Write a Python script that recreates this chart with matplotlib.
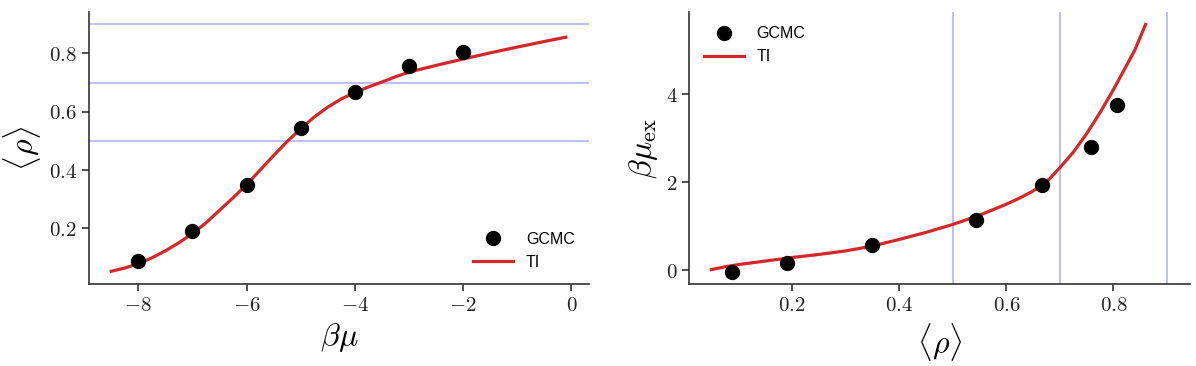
import numpy as np
import matplotlib
matplotlib.use("Agg")
import matplotlib.pyplot as plt
from matplotlib.ticker import FuncFormatter

# GCMC data (left: beta*mu vs <rho>, right: <rho> vs beta*mu_ex)
gcmc_bmu = [-8, -7, -6, -5, -4, -3, -2]
gcmc_rho = [0.087, 0.19, 0.35, 0.543, 0.667, 0.758, 0.806]
gcmc_bmu_ex = [-0.04, 0.17, 0.57, 1.14, 1.93, 2.79, 3.74]

# TI curve, left panel
ti_bmu = [-8.5, -8.25, -8.0, -7.75, -7.5, -7.25, -7.0, -6.75, -6.5, -6.25,
          -6.0, -5.75, -5.5, -5.25, -5.0, -4.75, -4.5, -4.25, -4.0, -3.75,
          -3.5, -3.25, -3.0, -2.5, -2.0, -1.5, -1.0, -0.5, -0.1]
ti_rho = [0.053, 0.064, 0.079, 0.099, 0.123, 0.151, 0.182, 0.219, 0.262, 0.305,
          0.35, 0.40, 0.45, 0.498, 0.542, 0.582, 0.616, 0.644, 0.666, 0.685,
          0.702, 0.72, 0.736, 0.759, 0.781, 0.802, 0.822, 0.841, 0.856]

# TI curve, right panel
ti_rho2 = [0.049, 0.075, 0.1, 0.15, 0.2, 0.25, 0.3, 0.35, 0.4, 0.45,
           0.5, 0.55, 0.6, 0.625, 0.65, 0.675, 0.7, 0.725, 0.75, 0.775,
           0.8, 0.82, 0.84, 0.86]
ti_bmu_ex = [0.015, 0.08, 0.13, 0.21, 0.29, 0.36, 0.44, 0.55, 0.70, 0.86,
             1.04, 1.25, 1.50, 1.64, 1.80, 2.0, 2.33, 2.68, 3.1, 3.58,
             4.1, 4.55, 5.0, 5.58]

ref_rho = [0.5, 0.7, 0.9]

plt.rcParams["mathtext.fontset"] = "cm"
plt.rcParams["font.family"] = ["Liberation Sans", "DejaVu Sans"]

red = "#d62728"
spine_col = "#333333"
fmt = FuncFormatter(lambda v, p: "$%g$" % v)

fig, (ax1, ax2) = plt.subplots(1, 2, figsize=(11.96, 3.66), dpi=100)
fig.subplots_adjust(left=0.074, right=0.995, bottom=0.223, top=0.967, wspace=0.2)

# left
for r in ref_rho:
    ax1.axhline(r, color="blue", alpha=0.3, lw=1.2, zorder=1)
ax1.plot(gcmc_bmu, gcmc_rho, "o", color="black", ms=10, label="GCMC", zorder=3)
ax1.plot(ti_bmu, ti_rho, color=red, lw=2.3, label="TI", zorder=2)
ax1.set_xlim(-8.92, 0.33)
ax1.set_ylim(0.008, 0.942)
ax1.set_xticks([-8, -6, -4, -2, 0])
ax1.set_yticks([0.2, 0.4, 0.6, 0.8])
ax1.set_xlabel(r"$\beta\mu$", fontsize=23)
ax1.set_ylabel(r"$\langle\rho\rangle$", fontsize=23)
ax1.legend(loc="lower right", frameon=False, fontsize=11.5, handlelength=2.5)

# right
for r in ref_rho:
    ax2.axvline(r, color="blue", alpha=0.3, lw=1.2, zorder=1)
ax2.plot(gcmc_rho, gcmc_bmu_ex, "o", color="black", ms=10, label="GCMC", zorder=3)
ax2.plot(ti_rho2, ti_bmu_ex, color=red, lw=2.3, label="TI", zorder=2)
ax2.set_xlim(0.008, 0.943)
ax2.set_ylim(-0.32, 5.86)
ax2.set_xticks([0.2, 0.4, 0.6, 0.8])
ax2.set_yticks([0, 2, 4])
ax2.set_xlabel(r"$\langle\rho\rangle$", fontsize=23)
ax2.set_ylabel(r"$\beta\mu_{\rm ex}$", fontsize=23)
ax2.legend(loc="upper left", frameon=False, fontsize=11.5, handlelength=2.5)

for ax in (ax1, ax2):
    ax.xaxis.set_major_formatter(fmt)
    ax.yaxis.set_major_formatter(fmt)
    ax.tick_params(labelsize=15, color=spine_col, length=5, width=1.2, labelcolor="#222222")
    for s in ("top", "right"):
        ax.spines[s].set_visible(False)
    for s in ("left", "bottom"):
        ax.spines[s].set_color(spine_col)
        ax.spines[s].set_linewidth(1.2)

fig.savefig("out.png")
